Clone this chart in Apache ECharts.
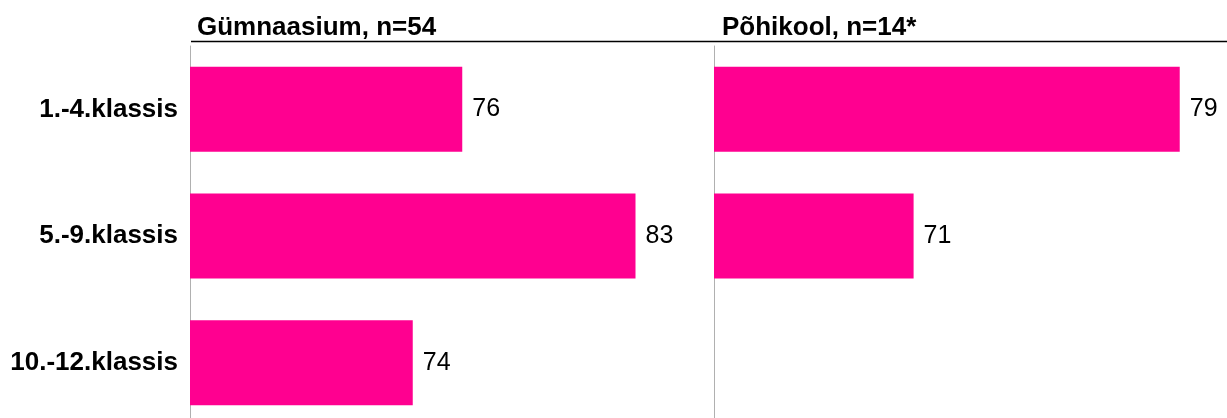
<!DOCTYPE html>
<html>
<head>
<meta charset="utf-8">
<script src="https://cdn.jsdelivr.net/npm/echarts@6/dist/echarts.min.js"></script>
<style>
  html, body { margin: 0; padding: 0; background: #fff; }
  #chart { width: 1227px; height: 418px; }
</style>
</head>
<body>
<div id="chart"></div>
<script>
const categories = ['1.-4.klassis', '5.-9.klassis', '10.-12.klassis']
const panelTitles = ['Gümnaasium, n=54', 'Põhikool, n=14*']
const gymnasiumValues = [76, 83, 74]
const basicSchoolValues = [79, 71, null]

const barColor = '#ff0090'
const font = 'Liberation Sans, Arial, sans-serif'

const chart = echarts.init(document.getElementById('chart'))

const labelStyle = {
  show: true,
  position: 'right',
  distance: 10,
  color: '#000',
  fontSize: 25,
  fontFamily: font,
}

const valueAxis = (idx, max) => ({
  type: 'value',
  gridIndex: idx,
  min: 65,
  max: max,
  show: false,
})

const catAxis = (idx, showLabels) => ({
  type: 'category',
  gridIndex: idx,
  inverse: true,
  data: categories,
  axisLine: { show: true, lineStyle: { color: '#b0b0b0', width: 1 } },
  axisTick: { show: false },
  axisLabel: {
    show: showLabels,
    margin: 12,
    color: '#000',
    fontSize: 26,
    fontWeight: 'bold',
    fontFamily: font,
  },
})

const titleStyle = { fontSize: 26, fontWeight: 'bold', color: '#000', fontFamily: font }

chart.setOption({
  animation: false,
  title: [
    { text: panelTitles[0], left: 192, top: 10, textStyle: titleStyle },
    { text: panelTitles[1], left: 717, top: 10, textStyle: titleStyle },
  ],
  graphic: [
    {
      type: 'line',
      shape: { x1: 191, y1: 41.5, x2: 1227, y2: 41.5 },
      style: { stroke: '#000', lineWidth: 1.5 },
    },
  ],
  grid: [
    { left: 190, top: 46, width: 495, height: 380, outerBoundsMode: 'none' },
    { left: 714, top: 46, width: 499, height: 380, outerBoundsMode: 'none' },
  ],
  xAxis: [valueAxis(0, 85), valueAxis(1, 80)],
  yAxis: [catAxis(0, true), catAxis(1, false)],
  series: [
    {
      type: 'bar',
      xAxisIndex: 0,
      yAxisIndex: 0,
      data: gymnasiumValues,
      barWidth: 85,
      itemStyle: { color: barColor },
      label: labelStyle,
    },
    {
      type: 'bar',
      xAxisIndex: 1,
      yAxisIndex: 1,
      data: basicSchoolValues,
      barWidth: 85,
      itemStyle: { color: barColor },
      label: labelStyle,
    },
  ],
})
</script>
</body>
</html>
